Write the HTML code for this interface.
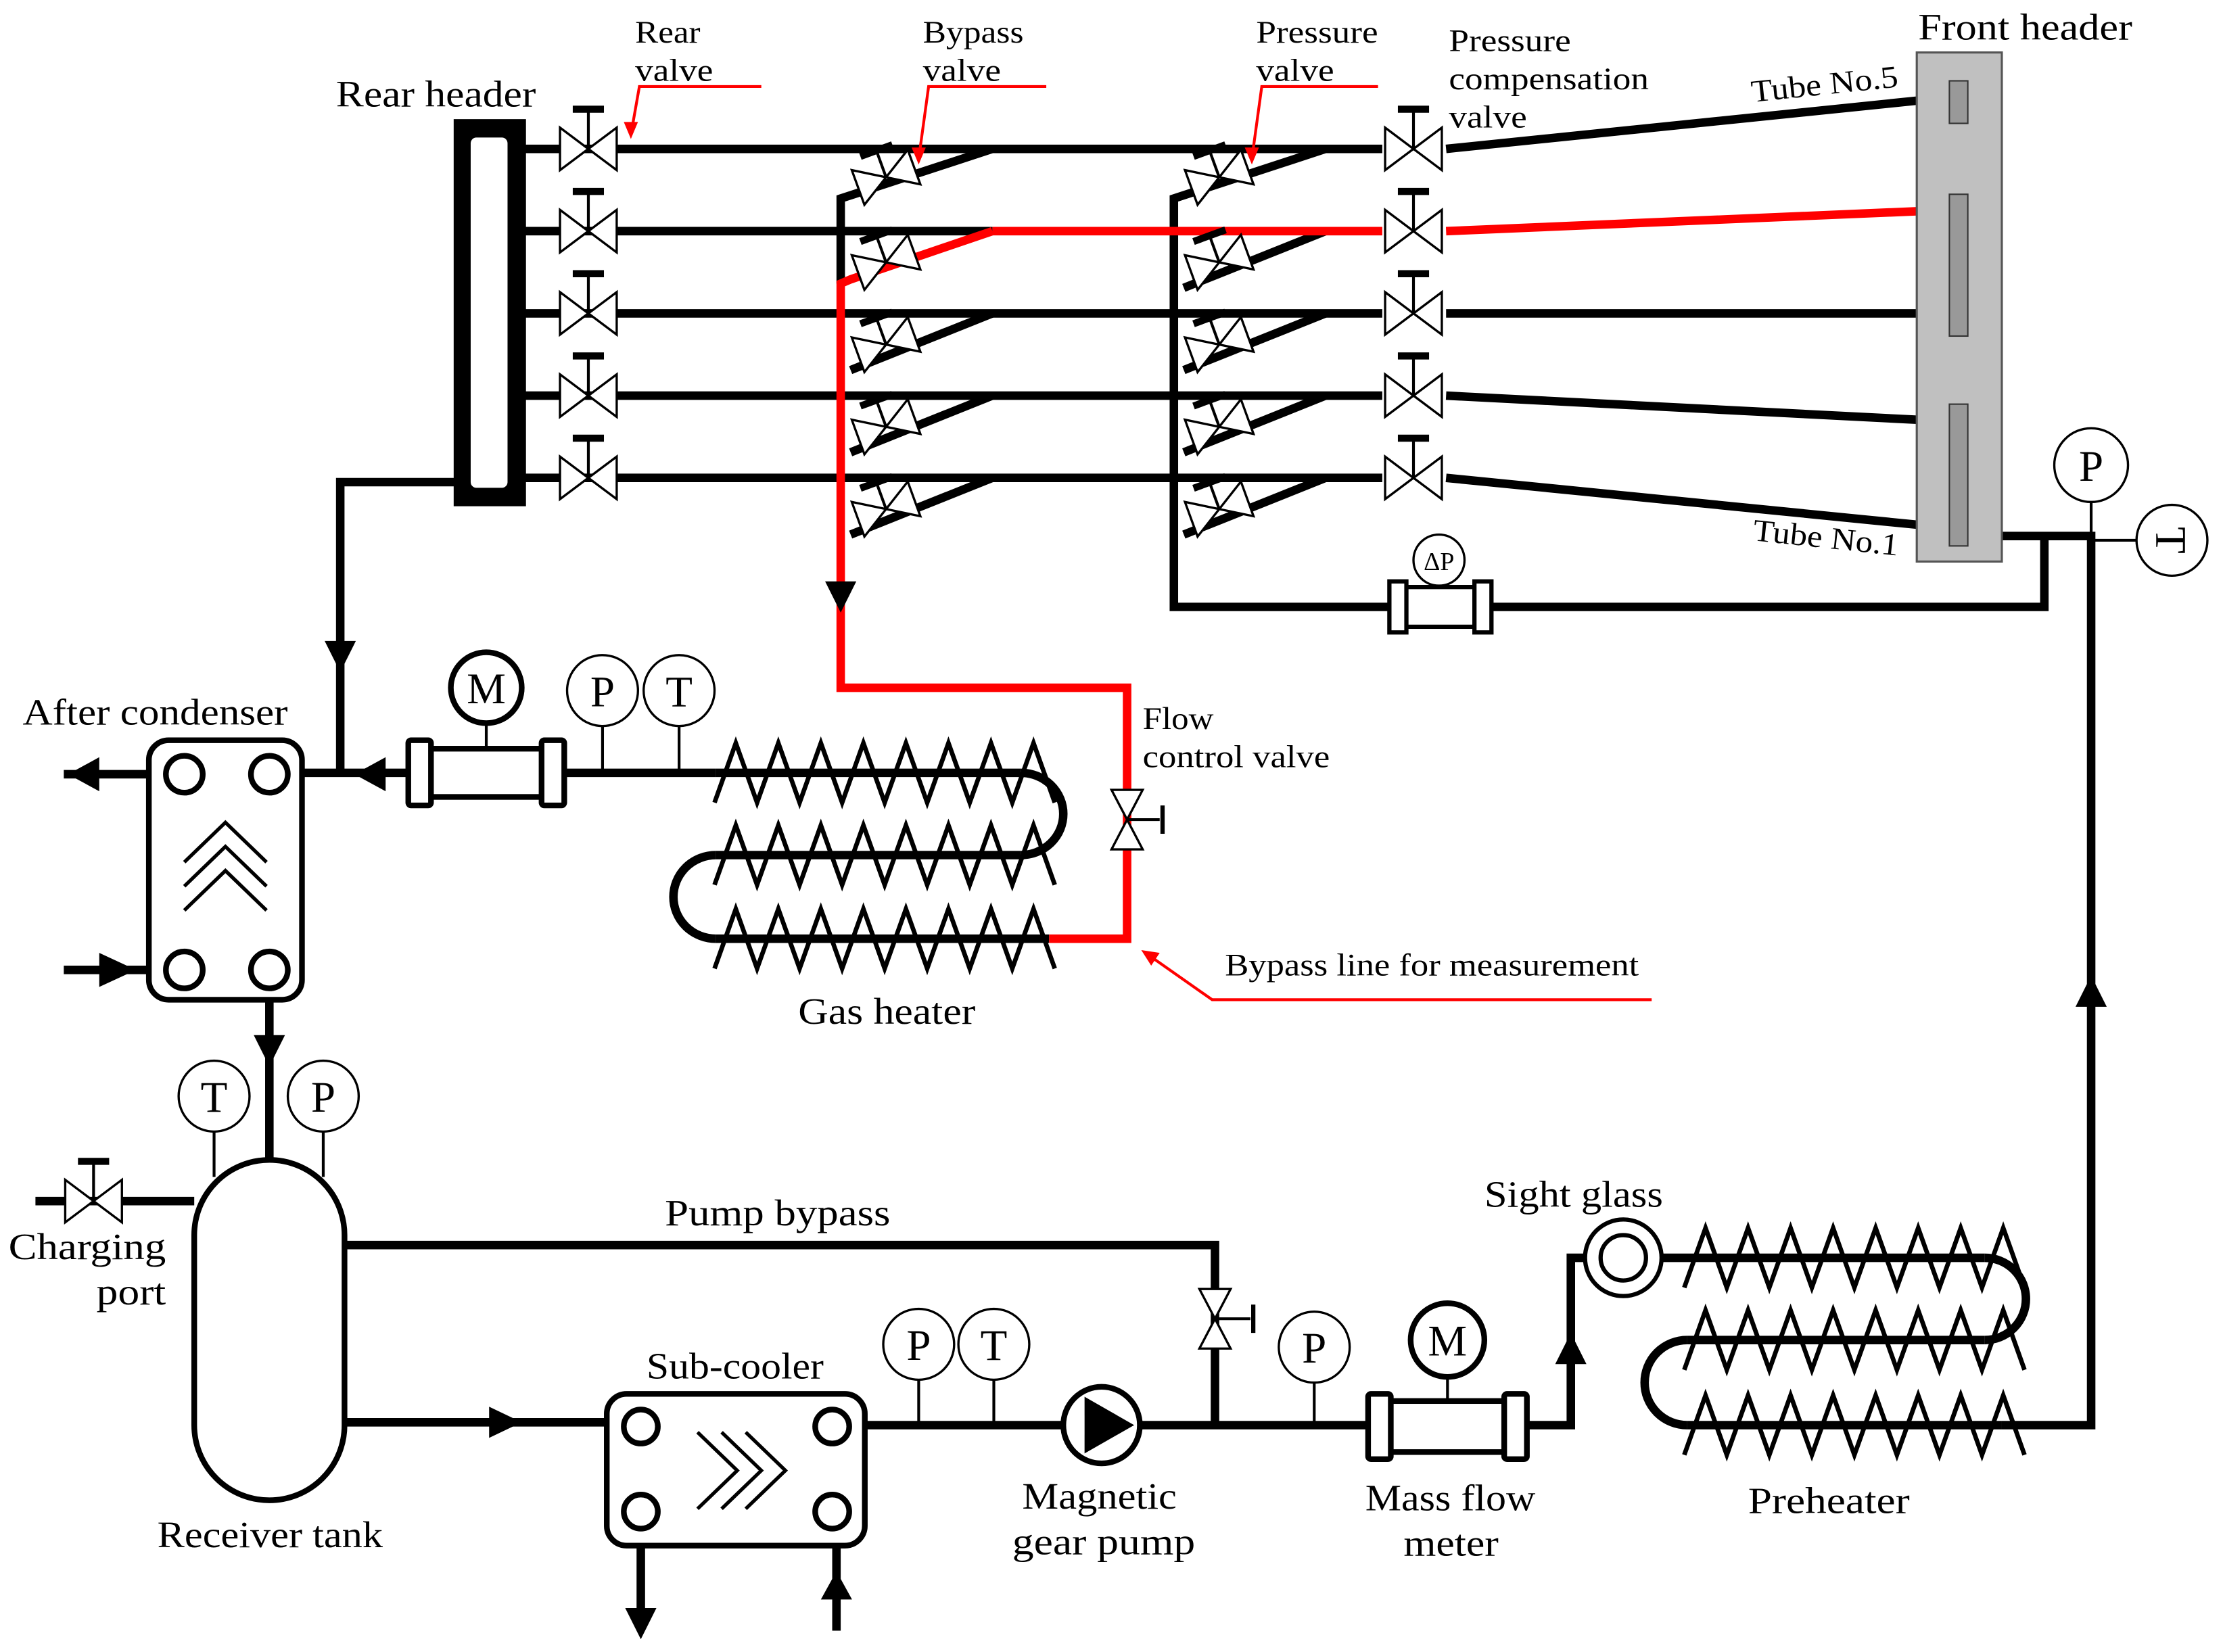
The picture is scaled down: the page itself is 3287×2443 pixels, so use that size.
<!DOCTYPE html>
<html><head><meta charset="utf-8"><style>html,body{margin:0;padding:0;background:#fff}svg{display:block}text{font-family:"Liberation Serif",serif;fill:#000}</style></head>
<body>
<svg width="3287" height="2443" viewBox="0 0 1568 1165" preserveAspectRatio="none" xmlns="http://www.w3.org/2000/svg">
<defs>
<g id="v"><polygon points="-20,-15 20,15 20,-15 -20,15" fill="#fff" stroke="#000" stroke-width="1.6"/><line x1="0" y1="0" x2="0" y2="-27" stroke="#000" stroke-width="2"/><line x1="-11" y1="-28" x2="11" y2="-28" stroke="#000" stroke-width="5"/></g>
<g id="vv"><polygon points="-21,-13 21,13 21,-13 -21,13" fill="#fff" stroke="#000" stroke-width="1.6"/><line x1="0" y1="0" x2="0" y2="-20" stroke="#000" stroke-width="2"/><line x1="-12" y1="-20" x2="12" y2="-20" stroke="#000" stroke-width="5"/></g>
<polygon id="ad" points="-11,-10 11,-10 0,12" fill="#000"/>
<path id="zz" d="M0,21 l15,-42 15,42 15,-42 15,42 15,-42 15,42 15,-42 15,42 15,-42 15,42 15,-42 15,42 15,-42 15,42 15,-42 15,42" fill="none" stroke="#000" stroke-width="3.2"/>
</defs>
<g fill="none" stroke="#000" stroke-width="6">
<line x1="368" y1="105" x2="975" y2="105"/>
<line x1="368" y1="163" x2="700" y2="163"/>
<line x1="368" y1="221" x2="975" y2="221"/>
<line x1="368" y1="279" x2="975" y2="279"/>
<line x1="368" y1="337" x2="975" y2="337"/>
<line x1="1020" y1="105" x2="1352" y2="71"/>
<line x1="1020" y1="221" x2="1352" y2="221"/>
<line x1="1020" y1="279" x2="1352" y2="296"/>
<line x1="1020" y1="337" x2="1352" y2="370"/>
<polyline points="700,105 593,140 593,200"/>
<line x1="600" y1="261" x2="700" y2="221"/>
<line x1="600" y1="319" x2="700" y2="279"/>
<line x1="600" y1="377" x2="700" y2="337"/>
<polyline points="935,105 828,140 828,428 1442,428 1442,378"/>
<line x1="835" y1="203" x2="935" y2="163"/>
<line x1="835" y1="261" x2="935" y2="221"/>
<line x1="835" y1="319" x2="935" y2="279"/>
<line x1="835" y1="377" x2="935" y2="337"/>
<polyline points="1412,378 1475,378 1475,1005 1412,1005"/>
<polyline points="322,340 240,340 240,545"/>
<line x1="195" y1="545" x2="505" y2="545"/>
<line x1="45" y1="546" x2="105" y2="546"/>
<line x1="45" y1="684" x2="105" y2="684"/>
<line x1="190" y1="705" x2="190" y2="818"/>
<line x1="25" y1="847" x2="137" y2="847"/>
<polyline points="243,878 857,878 857,1005"/>
<line x1="243" y1="1003" x2="428" y2="1003"/>
<polyline points="610,1005 1108,1005 1108,887 1118,887"/>
<line x1="452" y1="1090" x2="452" y2="1150"/>
<line x1="590" y1="1090" x2="590" y2="1150"/>
<path d="M720,545 a30,29 0 0 1 0,58"/>
<path d="M505,603 a30,29.5 0 0 0 0,59"/>
<path d="M1400,887 a29,29 0 0 1 0,58"/>
<path d="M1190,945 a30,30 0 0 0 0,60"/>
<line x1="1172" y1="887" x2="1400" y2="887"/>
<line x1="1190" y1="945" x2="1400" y2="945"/>
<line x1="1190" y1="1005" x2="1412" y2="1005"/>
<line x1="505" y1="545" x2="720" y2="545"/>
<line x1="505" y1="603" x2="720" y2="603"/>
<line x1="505" y1="662" x2="740" y2="662"/>
</g>
<g fill="none" stroke="#f00" stroke-width="6">
<polyline points="700,163 975,163"/>
<line x1="1020" y1="163" x2="1352" y2="149"/>
<polyline points="700,163 600,197 593,200 593,485 795,485 795,662 740,662"/>
</g>
<use href="#zz" x="504" y="545"/><use href="#zz" x="504" y="603"/><use href="#zz" x="504" y="662"/>
<use href="#zz" x="1188" y="887"/><use href="#zz" x="1188" y="945"/><use href="#zz" x="1188" y="1005"/>
<rect x="320" y="84" width="51" height="273" fill="#000"/>
<rect x="332" y="97" width="26" height="247" rx="4" fill="#fff"/>
<rect x="1352" y="37" width="60" height="359" fill="#c0c0c0" stroke="#555" stroke-width="1.5"/>
<rect x="1375" y="57" width="13" height="30" fill="#999" stroke="#333"/>
<rect x="1375" y="137" width="13" height="100" fill="#999" stroke="#333"/>
<rect x="1375" y="285" width="13" height="100" fill="#999" stroke="#333"/>
<use href="#v" x="415" y="105"/><use href="#v" x="415" y="163"/><use href="#v" x="415" y="221"/><use href="#v" x="415" y="279"/><use href="#v" x="415" y="337"/>
<use href="#v" x="997" y="105"/><use href="#v" x="997" y="163"/><use href="#v" x="997" y="221"/><use href="#v" x="997" y="279"/><use href="#v" x="997" y="337"/>
<g transform="translate(625,125) rotate(-20)"><use href="#vv"/></g>
<g transform="translate(625,185) rotate(-20)"><use href="#vv"/></g>
<g transform="translate(625,243) rotate(-20)"><use href="#vv"/></g>
<g transform="translate(625,301) rotate(-20)"><use href="#vv"/></g>
<g transform="translate(625,359) rotate(-20)"><use href="#vv"/></g>
<g transform="translate(860,125) rotate(-20)"><use href="#vv"/></g>
<g transform="translate(860,185) rotate(-20)"><use href="#vv"/></g>
<g transform="translate(860,243) rotate(-20)"><use href="#vv"/></g>
<g transform="translate(860,301) rotate(-20)"><use href="#vv"/></g>
<g transform="translate(860,359) rotate(-20)"><use href="#vv"/></g>
<use href="#v" x="66" y="847"/>
<g transform="translate(795,578) rotate(90)"><polygon points="-21,-11 21,11 21,-11 -21,11" fill="#fff" stroke="#000" stroke-width="1.6"/></g>
<line x1="795" y1="578" x2="818" y2="578" stroke="#000" stroke-width="2"/><line x1="820" y1="568" x2="820" y2="588" stroke="#000" stroke-width="3"/>
<g transform="translate(857,930) rotate(90)"><polygon points="-21,-11 21,11 21,-11 -21,11" fill="#fff" stroke="#000" stroke-width="1.6"/></g>
<line x1="857" y1="930" x2="882" y2="930" stroke="#000" stroke-width="2"/><line x1="884" y1="920" x2="884" y2="940" stroke="#000" stroke-width="3"/>
<use href="#ad" x="593" y="420"/><use href="#ad" x="240" y="462"/><use href="#ad" x="190" y="740"/>
<polygon points="441,1134 463,1134 452,1156" fill="#000"/>
<polygon points="579,1128 601,1128 590,1108" fill="#000"/>
<polygon points="1464,710 1486,710 1475,688" fill="#000"/>
<polygon points="1097,962 1119,962 1108,940" fill="#000"/>
<polygon points="345,992 345,1014 368,1003" fill="#000"/>
<polygon points="272,534 272,558 250,546" fill="#000"/>
<polygon points="70,534 70,558 48,546" fill="#000"/>
<polygon points="70,672 70,696 96,684" fill="#000"/>
<rect x="105" y="522" width="108" height="183" rx="14" fill="#fff" stroke="#000" stroke-width="4"/>
<g fill="#fff" stroke="#000" stroke-width="4"><circle cx="130" cy="546" r="13"/><circle cx="190" cy="546" r="13"/><circle cx="130" cy="684" r="13"/><circle cx="190" cy="684" r="13"/></g>
<g fill="none" stroke="#000" stroke-width="2.5"><polyline points="130,608 159,580 188,608"/><polyline points="130,625 159,597 188,625"/><polyline points="130,642 159,614 188,642"/></g>
<rect x="428" y="983" width="182" height="107" rx="14" fill="#fff" stroke="#000" stroke-width="4"/>
<g fill="#fff" stroke="#000" stroke-width="4"><circle cx="452" cy="1006" r="12"/><circle cx="587" cy="1006" r="12"/><circle cx="452" cy="1066" r="12"/><circle cx="587" cy="1066" r="12"/></g>
<g fill="none" stroke="#000" stroke-width="2.5"><polyline points="492,1010 520,1037 492,1064"/><polyline points="509,1010 537,1037 509,1064"/><polyline points="526,1010 554,1037 526,1064"/></g>
<rect x="137" y="818" width="106" height="240" rx="53" fill="#fff" stroke="#000" stroke-width="4"/>
<g fill="#fff" stroke="#000" stroke-width="4">
<rect x="298" y="528" width="90" height="34"/><rect x="288" y="522" width="16" height="46" rx="2"/><rect x="382" y="522" width="16" height="46" rx="2"/>
<rect x="975" y="988" width="92" height="36"/><rect x="965" y="983" width="16" height="46" rx="2"/><rect x="1061" y="983" width="16" height="46" rx="2"/>
<rect x="988" y="414" width="55" height="28" stroke-width="3"/><rect x="980" y="410" width="12" height="36" stroke-width="3"/><rect x="1040" y="410" width="12" height="36" stroke-width="3"/>
</g>
<g stroke="#000" stroke-width="2"><line x1="343" y1="508" x2="343" y2="528"/><line x1="1021" y1="969" x2="1021" y2="988"/><line x1="1015" y1="412" x2="1015" y2="414"/>
<line x1="425" y1="512" x2="425" y2="545"/><line x1="479" y1="512" x2="479" y2="545"/><line x1="151" y1="798" x2="151" y2="830"/><line x1="228" y1="798" x2="228" y2="830"/>
<line x1="648" y1="973" x2="648" y2="1005"/><line x1="701" y1="973" x2="701" y2="1005"/><line x1="927" y1="975" x2="927" y2="1005"/><line x1="1475" y1="354" x2="1475" y2="378"/><line x1="1475" y1="381" x2="1507" y2="381"/></g>
<g fill="#fff" stroke="#000" stroke-width="4"><circle cx="343" cy="485" r="25"/><circle cx="1021" cy="945" r="26"/><circle cx="1145" cy="887" r="27" stroke-width="3"/><circle cx="1145" cy="887" r="16" stroke-width="3"/></g>
<g fill="#fff" stroke="#000" stroke-width="1.6">
<circle cx="425" cy="487" r="25"/><circle cx="479" cy="487" r="25"/><circle cx="151" cy="773" r="25"/><circle cx="228" cy="773" r="25"/>
<circle cx="648" cy="948" r="25"/><circle cx="701" cy="948" r="25"/><circle cx="927" cy="950" r="25"/><circle cx="1475" cy="328" r="26"/><circle cx="1532" cy="381" r="25"/><circle cx="1015" cy="395" r="18"/></g>
<circle cx="777" cy="1005" r="27" fill="#fff" stroke="#000" stroke-width="4"/>
<polygon points="765,985 765,1025 800,1005" fill="#000"/>
<g fill="none" stroke="#f00" stroke-width="2"><polyline points="537,61 451,61 445,95"/><polyline points="738,61 655,61 648,112"/><polyline points="972,61 890,61 883,112"/><polyline points="1165,705 855,705 808,672"/></g>
<g fill="#f00"><polygon points="445,98 440,86 450,86"/><polygon points="648,116 643,104 653,104"/><polygon points="883,116 878,104 888,104"/><polygon points="805,670 818,672 812,681"/></g>
<g font-size="26" lengthAdjust="spacingAndGlyphs">
<text x="237" y="75" textLength="141" lengthAdjust="spacingAndGlyphs">Rear header</text>
<text x="1353" y="28" textLength="151" lengthAdjust="spacingAndGlyphs">Front header</text>
<text x="16" y="511" textLength="187" lengthAdjust="spacingAndGlyphs">After condenser</text>
<text x="563" y="722" textLength="125" lengthAdjust="spacingAndGlyphs">Gas heater</text>
<text x="469" y="864" textLength="159" lengthAdjust="spacingAndGlyphs">Pump bypass</text>
<text x="456" y="972" textLength="125" lengthAdjust="spacingAndGlyphs">Sub-cooler</text>
<text x="111" y="1091" textLength="159" lengthAdjust="spacingAndGlyphs">Receiver tank</text>
<text x="6" y="888" textLength="111" lengthAdjust="spacingAndGlyphs">Charging</text>
<text x="68" y="920" textLength="49" lengthAdjust="spacingAndGlyphs">port</text>
<text x="721" y="1064" textLength="109" lengthAdjust="spacingAndGlyphs">Magnetic</text>
<text x="714" y="1096" textLength="129" lengthAdjust="spacingAndGlyphs">gear pump</text>
<text x="963" y="1065" textLength="120" lengthAdjust="spacingAndGlyphs">Mass flow</text>
<text x="990" y="1097" textLength="67" lengthAdjust="spacingAndGlyphs">meter</text>
<text x="1047" y="851" textLength="126" lengthAdjust="spacingAndGlyphs">Sight glass</text>
<text x="1233" y="1067" textLength="114" lengthAdjust="spacingAndGlyphs">Preheater</text>
</g>
<g font-size="22">
<text x="448" y="30" textLength="46" lengthAdjust="spacingAndGlyphs">Rear</text><text x="448" y="57" textLength="55" lengthAdjust="spacingAndGlyphs">valve</text>
<text x="651" y="30" textLength="71" lengthAdjust="spacingAndGlyphs">Bypass</text><text x="651" y="57" textLength="55" lengthAdjust="spacingAndGlyphs">valve</text>
<text x="886" y="30" textLength="86" lengthAdjust="spacingAndGlyphs">Pressure</text><text x="886" y="57" textLength="55" lengthAdjust="spacingAndGlyphs">valve</text>
<text x="1022" y="36" textLength="86" lengthAdjust="spacingAndGlyphs">Pressure</text><text x="1022" y="63" textLength="141" lengthAdjust="spacingAndGlyphs">compensation</text><text x="1022" y="90" textLength="55" lengthAdjust="spacingAndGlyphs">valve</text>
<text x="806" y="514" textLength="50" lengthAdjust="spacingAndGlyphs">Flow</text><text x="806" y="541" textLength="132" lengthAdjust="spacingAndGlyphs">control valve</text>
<text x="864" y="688" textLength="292" lengthAdjust="spacingAndGlyphs">Bypass line for measurement</text>
<text x="1236" y="72" transform="rotate(-6 1236 72)" textLength="104" lengthAdjust="spacingAndGlyphs">Tube No.5</text>
<text x="1236" y="381" transform="rotate(6 1236 381)" textLength="103" lengthAdjust="spacingAndGlyphs">Tube No.1</text>
</g>
<g font-size="31" text-anchor="middle">
<text x="343" y="496">M</text><text x="1021" y="956">M</text>
<text x="425" y="498">P</text><text x="479" y="498">T</text><text x="151" y="784">T</text><text x="228" y="784">P</text>
<text x="648" y="959">P</text><text x="701" y="959">T</text><text x="927" y="961">P</text><text x="1475" y="339">P</text>
<text x="0" y="0" transform="translate(1532,381) rotate(90) translate(0,11)">T</text>
</g>
<text x="1015" y="402" font-size="18" text-anchor="middle">ΔP</text>
</svg>
</body></html>
